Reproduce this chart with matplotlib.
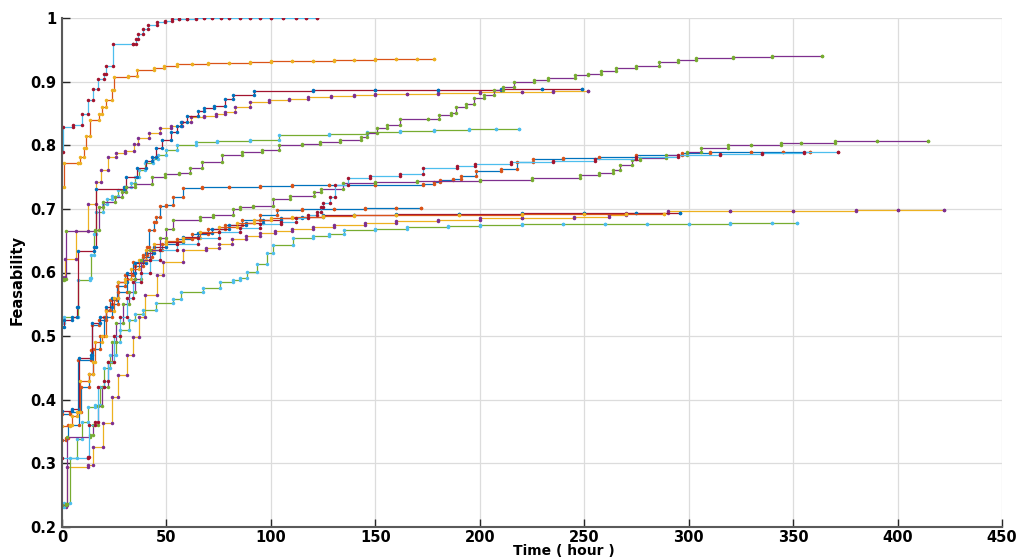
import matplotlib
matplotlib.use("Agg")
import matplotlib.pyplot as plt
import numpy as np

# MATLAB default colour order; each run uses two colours (line, then markers)
matlab_colors = ["#0072BD", "#D95319", "#EDB120", "#7E2F8E", "#77AC30", "#4DBEEE", "#A2142F"]

x_ticks = [0, 50, 100, 150, 200, 250, 300, 350, 400, 450]
y_ticks = [0.2, 0.3, 0.4, 0.5, 0.6, 0.7, 0.8, 0.9, 1.0]
y_tick_labels = ["0.2", "0.3", "0.4", "0.5", "0.6", "0.7", "0.8", "0.9", "1"]

# run 1  (blue / orange)
run01_t = [0, 4, 7.8, 14, 14.5, 17.6, 20.9, 22.8, 26.5, 30, 34, 39, 40.5, 41.5, 44, 45, 47, 50, 53.3, 58,
           67, 80, 95, 110, 128, 150, 173, 178, 181, 187, 191, 198, 210, 217.6, 225.5, 240, 257, 275, 297,
           310, 330, 345, 358]
run01_f = [0.378, 0.381, 0.462, 0.478, 0.518, 0.525, 0.541, 0.557, 0.578, 0.596, 0.617, 0.628, 0.64, 0.667,
           0.68, 0.688, 0.704, 0.706, 0.719, 0.733, 0.734, 0.735, 0.736, 0.737, 0.738, 0.738, 0.739, 0.743,
           0.745, 0.747, 0.752, 0.76, 0.762, 0.774, 0.778, 0.78, 0.782, 0.784, 0.788, 0.789, 0.789, 0.79, 0.79]

# run 2  (yellow / purple)
run02_t = [0, 1.6, 6.7, 12.6, 16.3, 18.8, 22, 26, 30, 34.5, 36.6, 41.7, 46.8, 52, 57.5, 61.8, 68, 73.5, 78,
           83, 90.2, 99, 108.7, 118, 129, 140, 150, 165, 180, 200, 220, 235, 252]
run02_f = [0.593, 0.622, 0.665, 0.708, 0.742, 0.761, 0.781, 0.788, 0.791, 0.802, 0.812, 0.82, 0.827, 0.83,
           0.836, 0.844, 0.846, 0.849, 0.853, 0.86, 0.868, 0.871, 0.873, 0.876, 0.878, 0.879, 0.88, 0.881,
           0.882, 0.883, 0.884, 0.885, 0.886]

# run 3  (green / light blue)
run03_t = [0, 1, 7.5, 13.5, 14, 15.5, 16.5, 19.5, 21.5, 24, 27, 30, 33, 35, 37, 39.6, 43.7, 46, 50, 55,
           64, 74, 90, 104, 128, 146, 162, 178, 195, 208, 219]
run03_f = [0.52, 0.53, 0.588, 0.592, 0.628, 0.66, 0.695, 0.708, 0.715, 0.72, 0.73, 0.735, 0.74, 0.75, 0.761,
           0.772, 0.779, 0.784, 0.792, 0.8, 0.805, 0.807, 0.809, 0.816, 0.817, 0.821, 0.822, 0.824, 0.825,
           0.826, 0.826]

# run 4  (dark red / blue)
run04_t = [0, 1, 5, 7, 7.5, 15.5, 16.5, 29.6, 30.5, 36, 40, 43, 45, 48, 52, 55, 57, 60, 65, 68, 73, 78,
           82, 92, 120, 150, 180, 210, 230, 248.8]
run04_f = [0.515, 0.525, 0.53, 0.545, 0.634, 0.64, 0.731, 0.734, 0.75, 0.764, 0.775, 0.782, 0.795, 0.808,
           0.821, 0.83, 0.836, 0.846, 0.854, 0.858, 0.862, 0.872, 0.879, 0.886, 0.887, 0.887, 0.887, 0.888,
           0.888, 0.888]

# run 5  (orange / yellow)
run05_t = [0, 0.8, 7.8, 8.8, 10.4, 11.6, 13.2, 17.5, 19.1, 21.2, 23.9, 25, 31.6, 36, 44, 48.7, 55, 62, 70,
           80, 90, 100, 110, 120, 130, 140, 150, 160, 170, 178]
run05_f = [0.734, 0.772, 0.772, 0.782, 0.796, 0.815, 0.839, 0.849, 0.86, 0.871, 0.887, 0.907, 0.909, 0.918,
           0.921, 0.925, 0.927, 0.928, 0.929, 0.93, 0.931, 0.932, 0.933, 0.933, 0.934, 0.934, 0.935, 0.935,
           0.935, 0.935]

# run 6  (purple / green)
run06_t = [0, 1, 2, 16, 17.8, 19.8, 25.4, 28.6, 30.5, 35, 43, 49.5, 55.8, 61.4, 67, 76.6, 86, 95.8, 103.7,
           114.9, 123.5, 133, 143, 146, 151, 155.6, 162, 175, 180.6, 186, 188.7, 193.5, 197.4, 202, 207, 211,
           216.6, 226, 232.7, 245.6, 252, 258, 265, 275, 286, 295, 303.5, 321, 340, 363.7]
run06_f = [0.588, 0.59, 0.665, 0.667, 0.703, 0.711, 0.719, 0.727, 0.735, 0.739, 0.75, 0.755, 0.757, 0.764,
           0.773, 0.785, 0.79, 0.793, 0.8, 0.802, 0.805, 0.808, 0.813, 0.819, 0.827, 0.832, 0.841, 0.842,
           0.847, 0.85, 0.86, 0.865, 0.874, 0.879, 0.887, 0.892, 0.9, 0.902, 0.905, 0.91, 0.912, 0.916,
           0.921, 0.925, 0.931, 0.934, 0.937, 0.939, 0.94, 0.941]

# run 7  (light blue / dark red)
run07_t = [0, 0.3, 5.1, 9.6, 12.3, 14.7, 17.1, 20, 21, 24.2, 33.8, 35.4, 36.5, 38.6, 41.3, 45.3, 49.3, 52.5,
           56, 60, 64, 68, 72, 76, 80, 85, 90, 95, 100, 106, 112, 117, 122]
run07_f = [0.79, 0.828, 0.832, 0.849, 0.871, 0.888, 0.904, 0.912, 0.924, 0.959, 0.959, 0.967, 0.975, 0.983,
           0.989, 0.994, 0.996, 0.998, 0.999, 0.999, 1.0, 1.0, 1.0, 1.0, 1.0, 1.0, 1.0, 1.0, 1.0, 1.0, 1.0,
           1.0, 1.0]

# run 8  (blue / orange)
run08_t = [0, 2, 3, 8, 9, 13, 15, 18, 20, 24, 27, 31, 35, 39, 43, 48, 55, 62, 70, 78, 86, 95, 103, 115,
           130, 145, 160, 172]
run08_f = [0.336, 0.34, 0.36, 0.38, 0.42, 0.44, 0.48, 0.5, 0.53, 0.55, 0.57, 0.59, 0.61, 0.625, 0.635,
           0.645, 0.652, 0.66, 0.668, 0.675, 0.682, 0.69, 0.699, 0.7, 0.7, 0.701, 0.701, 0.701]

# run 9  (yellow / purple)
run09_t = [0, 2, 2.2, 12.6, 15, 19.8, 23.8, 26.9, 30.9, 34.1, 37, 39.7, 45.3, 48.5, 58, 69, 75, 81.6, 88,
           95, 102, 110, 120, 130, 145, 160, 180, 200, 220, 245, 262, 270, 290, 320, 350, 380, 400, 422]
run09_f = [0.232, 0.235, 0.295, 0.297, 0.326, 0.363, 0.405, 0.439, 0.47, 0.499, 0.53, 0.564, 0.596, 0.617,
           0.635, 0.638, 0.645, 0.653, 0.657, 0.662, 0.666, 0.669, 0.672, 0.675, 0.678, 0.681, 0.683, 0.685,
           0.686, 0.688, 0.69, 0.694, 0.696, 0.697, 0.697, 0.698, 0.698, 0.698]

# run 10 (green / light blue)
run10_t = [0, 1, 3.8, 7, 9.4, 12.6, 16, 18, 20, 23, 26, 28, 32, 35, 39, 45, 53, 57, 67.7, 75.7, 82, 85.3,
           88.4, 93.3, 98, 101, 110.8, 120, 128, 135, 150, 165, 185, 200, 220, 240, 260, 280, 300, 320,
           340, 352]
run10_f = [0.232, 0.237, 0.308, 0.339, 0.365, 0.389, 0.392, 0.42, 0.45, 0.47, 0.49, 0.51, 0.525, 0.535,
           0.541, 0.552, 0.559, 0.57, 0.575, 0.585, 0.588, 0.592, 0.601, 0.614, 0.63, 0.643, 0.654, 0.658,
           0.661, 0.667, 0.669, 0.672, 0.673, 0.675, 0.676, 0.676, 0.677, 0.677, 0.677, 0.678, 0.678, 0.678]

# run 11 (dark red / blue)
run11_t = [0, 4.6, 8.1, 14, 14.5, 18, 21, 24, 27, 31, 35, 40, 44, 50, 58, 65, 72, 80, 88, 96, 105, 115,
           125, 140, 160, 190, 220, 250, 275, 296]
run11_f = [0.383, 0.385, 0.465, 0.47, 0.52, 0.53, 0.545, 0.56, 0.585, 0.6, 0.615, 0.63, 0.64, 0.648, 0.656,
           0.662, 0.668, 0.674, 0.678, 0.682, 0.686, 0.688, 0.69, 0.691, 0.692, 0.692, 0.693, 0.693, 0.693,
           0.693]

# run 12 (orange / yellow)
run12_t = [0, 3.8, 5, 7, 8.5, 13, 15, 16, 19, 21, 25, 27, 30, 33, 37, 40, 44, 50, 58, 66, 75, 84, 92, 100,
           110, 125, 140, 160, 190, 220, 250, 270, 288]
run12_f = [0.358, 0.36, 0.375, 0.38, 0.43, 0.44, 0.46, 0.49, 0.5, 0.54, 0.56, 0.585, 0.59, 0.605, 0.62,
           0.635, 0.645, 0.65, 0.655, 0.664, 0.672, 0.678, 0.683, 0.686, 0.688, 0.689, 0.69, 0.691, 0.691,
           0.692, 0.692, 0.692, 0.692]

# run 13 (purple / green)
run13_t = [0, 2, 2.6, 13.5, 15, 17, 19, 22, 24, 26, 29, 32, 35, 38, 42, 47, 50, 53, 66, 72.5, 82, 85.2,
           91.6, 101.2, 109, 120.4, 124, 134.6, 150, 170, 200, 225, 248, 257, 264, 267, 272.7, 276.8, 289,
           299, 305.8, 318.6, 329.7, 344, 354, 370, 390, 414.6]
run13_f = [0.234, 0.236, 0.342, 0.345, 0.36, 0.39, 0.42, 0.46, 0.49, 0.52, 0.55, 0.57, 0.59, 0.62, 0.635,
           0.655, 0.668, 0.682, 0.688, 0.69, 0.7, 0.703, 0.705, 0.716, 0.721, 0.726, 0.731, 0.741, 0.743,
           0.744, 0.746, 0.749, 0.753, 0.756, 0.761, 0.769, 0.777, 0.78, 0.784, 0.79, 0.795, 0.8, 0.801,
           0.803, 0.804, 0.806, 0.806, 0.807]

# run 14 (light blue / dark red)
run14_t = [0, 12.6, 13, 16, 17, 20, 22, 25, 28, 31, 34, 38, 42, 47, 55, 65, 75, 85, 95, 105, 112, 118, 122,
           124, 125, 128.3, 130.7, 137, 147.4, 161.8, 173, 189, 197.7, 215, 235, 255, 275, 295, 315, 335,
           355, 371.5]
run14_f = [0.308, 0.31, 0.36, 0.365, 0.42, 0.43, 0.46, 0.5, 0.53, 0.56, 0.585, 0.6, 0.62, 0.635, 0.645,
           0.655, 0.663, 0.67, 0.676, 0.68, 0.685, 0.69, 0.695, 0.703, 0.709, 0.719, 0.737, 0.748, 0.752,
           0.755, 0.764, 0.767, 0.771, 0.773, 0.776, 0.779, 0.782, 0.785, 0.787, 0.788, 0.789, 0.789]

runs = [
    (run01_t, run01_f), (run02_t, run02_f), (run03_t, run03_f), (run04_t, run04_f),
    (run05_t, run05_f), (run06_t, run06_f), (run07_t, run07_f), (run08_t, run08_f),
    (run09_t, run09_f), (run10_t, run10_f), (run11_t, run11_f), (run12_t, run12_f),
    (run13_t, run13_f), (run14_t, run14_f),
]

plt.rcParams["font.family"] = "DejaVu Sans"
plt.rcParams["font.weight"] = "bold"

fig = plt.figure(figsize=(10.21, 5.58), dpi=100)
ax = fig.add_axes([62 / 1021, 31 / 558, 940 / 1021, 509 / 558])
ax.set_prop_cycle(color=matlab_colors)

for t, f in runs:
    t = np.asarray(t, dtype=float)
    f = np.asarray(f, dtype=float)
    ax.plot(t, f, "-", lw=0.9, drawstyle="steps-post")
    # markers on both corners of every step
    ax.plot(np.r_[t, t[1:]], np.r_[f, f[:-1]], ".", ms=3, ls="none")

ax.set_xlim(0, 450)
ax.set_ylim(0.2, 1.0)
ax.set_xticks(x_ticks)
ax.set_yticks(y_ticks)
ax.set_yticklabels(y_tick_labels)
ax.grid(True, color="#dcdcdc", lw=0.9)
ax.set_axisbelow(True)

for side in ["top", "right"]:
    ax.spines[side].set_visible(False)
for side in ["left", "bottom"]:
    ax.spines[side].set_color("#5a5a5a")
    ax.spines[side].set_linewidth(1.5)

ax.tick_params(direction="in", length=6, width=1, color="#262626", labelsize=10.5, pad=4)
ax.tick_params(axis="x", pad=2)

ax.set_xlabel("Time ( hour )", fontsize=10, fontweight="bold")
ax.set_ylabel("Feasability", fontsize=10.5, fontweight="bold")
ax.xaxis.set_label_coords(0.5335, -0.034)
ax.yaxis.set_label_coords(-0.04, 0.485)

fig.savefig("out.png", dpi=100)
